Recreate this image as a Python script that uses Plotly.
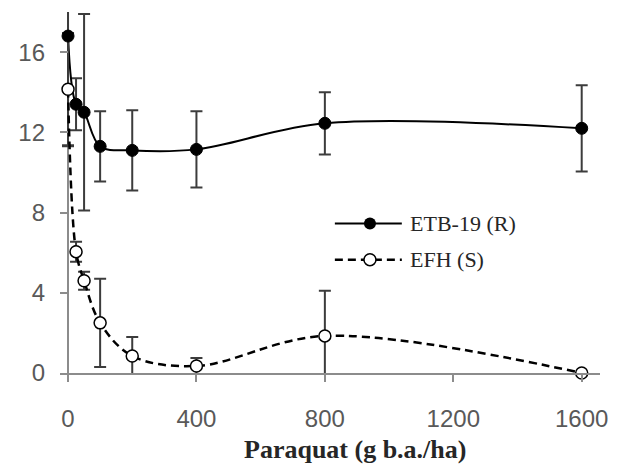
import plotly.graph_objects as go

# ---- data ----
dose = [0, 25, 50, 100, 200, 400, 800, 1600]
etb_mean = [16.8, 13.4, 13.0, 11.3, 11.1, 11.15, 12.45, 12.2]
etb_err = [5.5, 1.3, 4.9, 1.75, 2.0, 1.9, 1.55, 2.15]
efh_mean = [14.15, 6.05, 4.6, 2.5, 0.85, 0.35, 1.85, 0.0]
efh_err = [2.8, 0.5, 0.45, 2.2, 0.95, 0.4, 2.25, 0.0]

x_ticks = [0, 400, 800, 1200, 1600]
y_ticks = [0, 4, 8, 12, 16]
series_names = ["ETB-19 (R)", "EFH (S)"]
x_title = "Paraquat (g b.a./ha)"

ERR_COL = "#3c3c3c"
AX_COL = "#8c8c8c"
TICK_FONT = dict(family="Liberation Sans, Arial, sans-serif", size=24, color="#595959")
SERIF = "Liberation Serif, Times New Roman, serif"

fig = go.Figure()

def err(vals):
    return dict(type="data", array=vals, visible=True, color=ERR_COL,
                thickness=2, width=6)

# lines + error bars (clipped to the plot area)
fig.add_trace(go.Scatter(x=dose, y=etb_mean, mode="lines",
                         line=dict(color="black", width=2, shape="spline", smoothing=1.0),
                         error_y=err(etb_err), showlegend=False, cliponaxis=True))
fig.add_trace(go.Scatter(x=dose, y=efh_mean, mode="lines",
                         line=dict(color="black", width=2.5, dash="8px,5px",
                                   shape="spline", smoothing=1.0),
                         error_y=err(efh_err), showlegend=False, cliponaxis=True))
# markers (not clipped)
fig.add_trace(go.Scatter(x=dose, y=etb_mean, mode="markers",
                         marker=dict(symbol="circle", size=12, color="black",
                                     line=dict(color="black", width=1)),
                         showlegend=False, cliponaxis=False))
fig.add_trace(go.Scatter(x=dose, y=efh_mean, mode="markers",
                         marker=dict(symbol="circle", size=12, color="white",
                                     line=dict(color="black", width=1.5)),
                         showlegend=False, cliponaxis=False))

# ---- manual legend on an overlay axis in plot-fraction units ----
leg_x0, leg_xm, leg_x1 = 0.509, 0.574, 0.633
leg_y = [0.414, 0.314]
leg_text_x = 0.644
fig.add_trace(go.Scatter(x=[leg_x0, leg_xm, leg_x1], y=[leg_y[0]] * 3, mode="lines",
                         line=dict(color="black", width=2), xaxis="x2", yaxis="y2",
                         showlegend=False, hoverinfo="skip"))
fig.add_trace(go.Scatter(x=[leg_xm], y=[leg_y[0]], mode="markers",
                         marker=dict(size=12, color="black"), xaxis="x2", yaxis="y2",
                         showlegend=False, hoverinfo="skip"))
fig.add_trace(go.Scatter(x=[leg_x0, leg_xm, leg_x1], y=[leg_y[1]] * 3, mode="lines",
                         line=dict(color="black", width=2.5, dash="8px,5px"),
                         xaxis="x2", yaxis="y2", showlegend=False, hoverinfo="skip"))
fig.add_trace(go.Scatter(x=[leg_xm], y=[leg_y[1]], mode="markers",
                         marker=dict(size=12, color="white", line=dict(color="black", width=1.5)),
                         xaxis="x2", yaxis="y2", showlegend=False, hoverinfo="skip"))
for name, yy in zip(series_names, leg_y):
    fig.add_annotation(x=leg_text_x, y=yy, xref="x2", yref="y2", text=name,
                       showarrow=False, xanchor="left", yanchor="middle",
                       font=dict(family=SERIF, size=22, color="#262626"))

fig.add_annotation(x=0.546, y=-0.213, xref="paper", yref="paper",
                   text="<b>" + x_title + "</b>", showarrow=False,
                   xanchor="center", yanchor="middle",
                   font=dict(family=SERIF, size=26, color="#262626"))

# page body has an 8px margin, so the figure is sized to fit inside the window
fig.update_layout(
    width=616, height=457,
    margin=dict(l=52, r=24, t=4, b=92),
    paper_bgcolor="white", plot_bgcolor="white",
    showlegend=False,
    xaxis=dict(range=[-25, 1657], tickvals=x_ticks, showgrid=False,
               zeroline=True, zerolinecolor=AX_COL, zerolinewidth=1.5,
               showline=True, linecolor=AX_COL, linewidth=1.5,
               ticks="outside", ticklen=7, tickcolor=AX_COL, tickwidth=1.5,
               tickfont=TICK_FONT, ticklabelstandoff=16),
    yaxis=dict(range=[0, 18], tickvals=y_ticks, showgrid=False,
               zeroline=False, showline=False,
               ticks="inside", ticklen=8, tickcolor=AX_COL, tickwidth=1.5,
               tickfont=TICK_FONT, ticklabelstandoff=14),
    xaxis2=dict(overlaying="x", range=[0, 1], visible=False, fixedrange=True),
    yaxis2=dict(overlaying="y", range=[0, 1], visible=False, fixedrange=True),
)

fig.write_html("out.html")
